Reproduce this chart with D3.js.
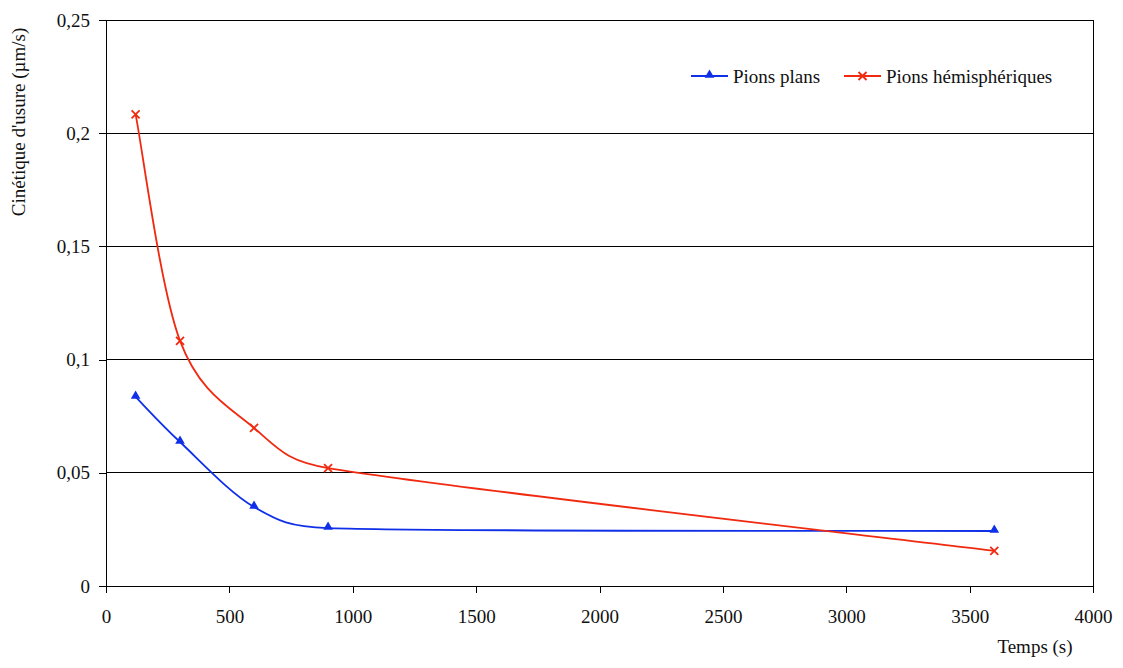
<!DOCTYPE html>
<html><head><meta charset="utf-8">
<script src="https://cdn.jsdelivr.net/npm/d3@7"></script>
<style>body{margin:0;background:#fff}svg{display:block}</style>
</head><body><svg id="c" width="1123" height="668"></svg>
<script>
const times = [120, 300, 600, 900, 3600];
const pionsPlans = [0.0835, 0.0636, 0.0349, 0.0256, 0.0243];
const pionsHemi = [0.2083, 0.1083, 0.0698, 0.0521, 0.0155];
const seriesNames = ["Pions plans", "Pions hémisphériques"];
const xTicks = [0,500,1000,1500,2000,2500,3000,3500,4000];
const yTicks = [0,0.05,0.1,0.15,0.2,0.25];

const FONT = "'Liberation Serif', 'DejaVu Serif', serif";
const FS = "19px";
const svg = d3.select("#c");
const L=106, R=1093, T=20, B=586;
const x = d3.scaleLinear().domain([0,4000]).range([L,R]);
const y = d3.scaleLinear().domain([0,0.25]).range([B,T]);
const fmtY = d => d===0 ? "0" : String(+d.toFixed(2)).replace(".", ",");

svg.append("g").selectAll("line").data(yTicks.filter(d=>d>0)).join("line")
  .attr("x1",L).attr("x2",R).attr("y1",d=>y(d)).attr("y2",d=>y(d))
  .attr("stroke","#000").attr("stroke-width",1).attr("shape-rendering","crispEdges");
svg.append("line").attr("x1",R).attr("x2",R).attr("y1",T).attr("y2",B).attr("stroke","#000").attr("shape-rendering","crispEdges");

const ya = svg.append("g").attr("transform",`translate(${L},0)`)
  .call(d3.axisLeft(y).tickValues(yTicks).tickFormat(fmtY).tickSize(7).tickPadding(9));
const xa = svg.append("g").attr("transform",`translate(0,${B})`)
  .call(d3.axisBottom(x).tickValues(xTicks).tickFormat(d3.format("d")).tickSize(7).tickPadding(17));
[ya,xa].forEach(a=>{
  a.attr("font-family",null).attr("font-size",null);
  a.select(".domain").attr("stroke","#000").attr("shape-rendering","crispEdges");
  a.selectAll(".tick line").attr("stroke","#000").attr("shape-rendering","crispEdges");
  a.selectAll("text").attr("fill","#111").style("font-family",FONT).style("font-size",FS);
});

svg.append("text").attr("x",1035).attr("y",653).attr("text-anchor","middle")
  .style("font-family",FONT).style("font-size",FS).attr("fill","#111").text("Temps (s)");
svg.append("text").attr("transform","translate(25,122) rotate(-90)").attr("text-anchor","middle")
  .style("font-family",FONT).style("font-size",FS).attr("fill","#111").text("Cinétique d'usure (µm/s)");

// Excel-style smoothing: Bezier with 1/6 tangents, arm length limited to half the segment
function excelPath(pts){
  const p = d3.path();
  const n = pts.length;
  const dist = (a,b)=>Math.hypot(b[0]-a[0], b[1]-a[1]);
  p.moveTo(pts[0][0], pts[0][1]);
  for(let i=0;i<n-1;i++){
    const p0 = pts[Math.max(i-1,0)], p1 = pts[i], p2 = pts[i+1], p3 = pts[Math.min(i+2,n-1)];
    const seg = dist(p1,p2);
    let t1 = [(p2[0]-p0[0])/6, (p2[1]-p0[1])/6];
    let t2 = [(p3[0]-p1[0])/6, (p3[1]-p1[1])/6];
    const l1 = Math.hypot(t1[0],t1[1]), l2 = Math.hypot(t2[0],t2[1]);
    if(l1 > seg/2){ const s = seg/2/l1; t1=[t1[0]*s,t1[1]*s]; }
    if(l2 > seg/2){ const s = seg/2/l2; t2=[t2[0]*s,t2[1]*s]; }
    p.bezierCurveTo(p1[0]+t1[0], p1[1]+t1[1], p2[0]-t2[0], p2[1]-t2[1], p2[0], p2[1]);
  }
  return p.toString();
}

const colors = ["#1030e8","#f02a10"];
const data = [pionsPlans, pionsHemi];
data.forEach((s,k)=>{
  const pts = s.map((d,i)=>[x(times[i]), y(d)]);
  svg.append("path").attr("d",excelPath(pts)).attr("fill","none").attr("stroke",colors[k]).attr("stroke-width",1.8);
});
const tri = d3.symbol().type(d3.symbolTriangle).size(40);
svg.append("g").selectAll("path").data(pionsPlans).join("path")
  .attr("transform",(d,i)=>`translate(${x(times[i])},${y(d)-1})`).attr("d",tri()).attr("fill",colors[0]);
const cross = "M-4,-4L4,4M-4,4L4,-4";
svg.append("g").selectAll("path").data(pionsHemi).join("path")
  .attr("transform",(d,i)=>`translate(${x(times[i])},${y(d)})`).attr("d",cross).attr("stroke",colors[1]).attr("stroke-width",1.8).attr("fill","none");

const lg = svg.append("g").attr("transform","translate(0,76)");
lg.append("line").attr("x1",691).attr("x2",728).attr("stroke",colors[0]).attr("stroke-width",1.8);
lg.append("path").attr("transform","translate(709.5,-1)").attr("d",tri()).attr("fill",colors[0]);
lg.append("text").attr("x",733).attr("y",7).style("font-family",FONT).style("font-size",FS).attr("fill","#111").text(seriesNames[0]);
lg.append("line").attr("x1",844).attr("x2",881).attr("stroke",colors[1]).attr("stroke-width",1.8);
lg.append("path").attr("transform","translate(862.5,0)").attr("d",cross).attr("stroke",colors[1]).attr("stroke-width",1.8);
lg.append("text").attr("x",886).attr("y",7).style("font-family",FONT).style("font-size",FS).attr("fill","#111").text(seriesNames[1]);
</script></body></html>
